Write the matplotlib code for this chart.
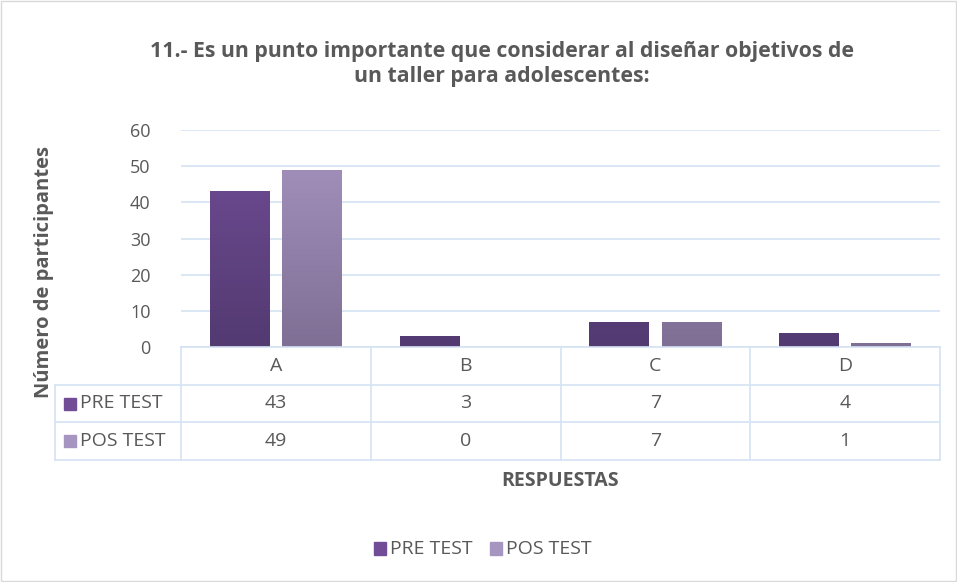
import numpy as np
import matplotlib
matplotlib.use("Agg")
import matplotlib.pyplot as plt
from matplotlib.patches import Rectangle
from matplotlib.colors import LinearSegmentedColormap

# data
categories = ["A", "B", "C", "D"]
series_names = ["PRE TEST", "POS TEST"]
pre_test = [43, 3, 7, 4]
pos_test = [49, 0, 7, 1]
title = "11.- Es un punto importante que considerar al diseñar objetivos de\nun taller para adolescentes:"
ylabel = "Número de participantes"
xlabel = "RESPUESTAS"
yticks = [0, 10, 20, 30, 40, 50, 60]

plt.rcParams['font.family'] = ['Open Sans', 'DejaVu Sans']
txt = "#595959"
grid_c = "#D6E3F3"
# top / bottom colours for the gradient fills
grads = [("#714D97", "#533A71"), ("#A795C1", "#7F6F95")]

W, H = 957, 582
fig = plt.figure(figsize=(W / 100, H / 100), dpi=100)

# plot area in pixels
x0, x1 = 181, 940
y_top, y_zero = 130, 347
ax = fig.add_axes([x0 / W, 1 - y_zero / H, (x1 - x0) / W, (y_zero - y_top) / H])
ax.set_xlim(-0.5, len(categories) - 0.5)
ax.set_ylim(0, 60)
ax.set_yticks(yticks)
ax.tick_params(axis="y", length=0, labelsize=13, labelcolor=txt, pad=22)
ax.set_xticks([])
ax.grid(axis="y", color=grid_c, linewidth=1.2)
ax.set_axisbelow(True)
for s in ax.spines.values():
    s.set_visible(False)

bw = 0.315
offs = [-0.19, 0.19]
for vals, off, (ct, cb) in zip([pre_test, pos_test], offs, grads):
    cmap = LinearSegmentedColormap.from_list("g", [cb, ct])
    bars = ax.bar(np.arange(len(categories)) + off, vals, width=bw, color="none", zorder=2)
    for b in bars:
        h = b.get_height()
        if h <= 0:
            continue
        im = ax.imshow(np.linspace(0, 1, 100).reshape(-1, 1), cmap=cmap, origin="lower",
                       extent=[b.get_x(), b.get_x() + b.get_width(), 0, 60],
                       aspect="auto", zorder=2, vmin=0, vmax=1)
        im.set_clip_path(b)
ax.set_xlim(-0.5, len(categories) - 0.5)
ax.set_ylim(0, 60)

# data table drawn below the plot area
tax = fig.add_axes([0, 0, 1, 1])
tax.set_xlim(0, W)
tax.set_ylim(H, 0)
tax.axis("off")
row_y = [347, 385, 422, 460]
left = 55
cw = (x1 - x0) / len(categories)
lc = grid_c
lw = 1.2
fs = 14
# horizontal lines
tax.plot([x0, x1], [row_y[0], row_y[0]], color=lc, lw=lw)
for y in row_y[1:]:
    tax.plot([left, x1], [y, y], color=lc, lw=lw)
# vertical lines
tax.plot([left, left], [row_y[1], row_y[3]], color=lc, lw=lw)
for i in range(len(categories) + 1):
    xx = x0 + i * cw
    tax.plot([xx, xx], [row_y[0], row_y[3]], color=lc, lw=lw)
for i, c in enumerate(categories):
    tax.text(x0 + (i + 0.5) * cw, (row_y[0] + row_y[1]) / 2, c, ha="center", va="center",
             fontsize=fs, color=txt)
for r, (name, vals, (ct, cb)) in enumerate(zip(series_names, [pre_test, pos_test], grads)):
    yc = (row_y[r + 1] + row_y[r + 2]) / 2
    tax.add_patch(Rectangle((64, yc - 6), 12, 12, color=ct))
    tax.text(80, yc, name, ha="left", va="center", fontsize=fs, color=txt)
    for i, v in enumerate(vals):
        tax.text(x0 + (i + 0.5) * cw, yc, str(v), ha="center", va="center", fontsize=fs, color=txt)

# titles and labels
tax.text(502, 64, title, ha="center", va="center", fontsize=15.3, fontweight="bold",
         color=txt, linespacing=1.3)
tax.text(44, 272, ylabel, ha="center", va="center", rotation=90, fontsize=14.5,
         fontweight="bold", color=txt)
tax.text(560, 481, xlabel, ha="center", va="center", fontsize=14, fontweight="bold", color=txt)

# legend
legend_x = [374, 490]
for name, lx, (ct, cb) in zip(series_names, legend_x, grads):
    tax.add_patch(Rectangle((lx, 542), 12, 13, color=ct))
    tax.text(lx + 16, 549, name, ha="left", va="center", fontsize=fs, color=txt)

# outer border
tax.add_patch(Rectangle((0.5, 0.5), W - 1.5, H - 1.5, fill=False, edgecolor="#D9D9D9", lw=1))

fig.savefig("out.png", dpi=100)
